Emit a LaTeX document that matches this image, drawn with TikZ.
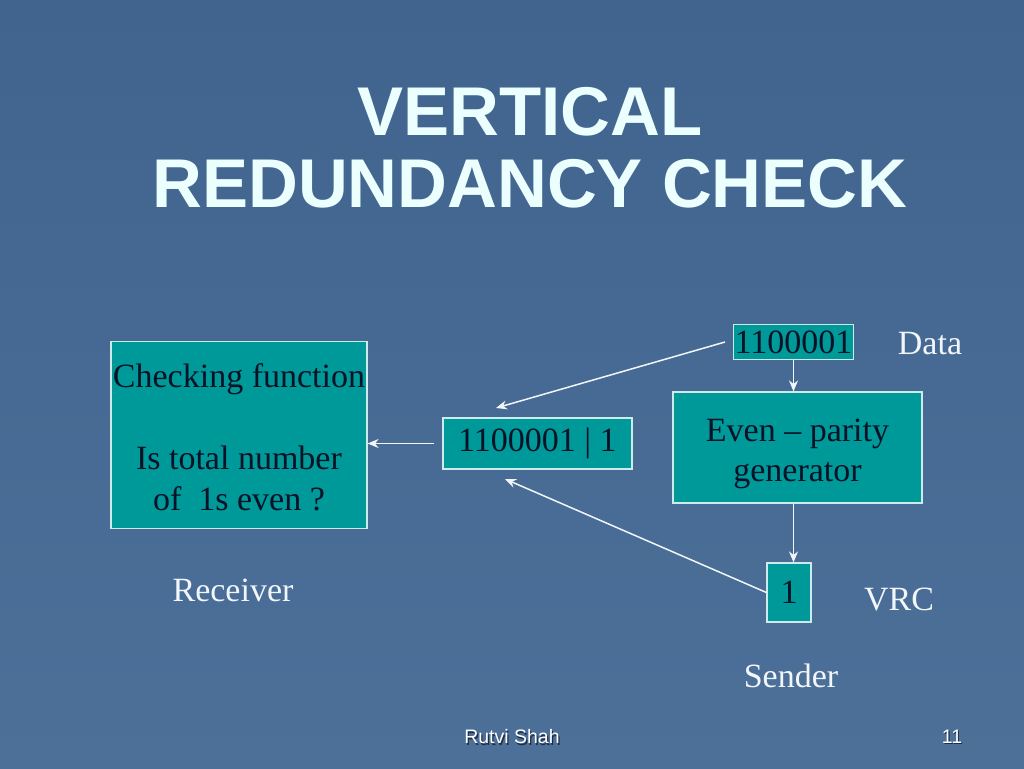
\documentclass[tikz,border=0pt]{standalone}
\usepackage{fontspec}
\setmainfont{Liberation Serif}
\newfontfamily\titlefont{Liberation Sans}
\usetikzlibrary{arrows.meta}
\definecolor{slidebg}{RGB}{76,112,152}
\definecolor{slidetop}{RGB}{64,100,142}
\definecolor{boxteal}{RGB}{0,153,153}
\definecolor{boxedge}{RGB}{205,235,235}
\definecolor{boxtext}{RGB}{8,18,38}
\definecolor{titletext}{RGB}{236,255,255}
\definecolor{labeltext}{RGB}{242,246,250}
\definecolor{shadowtext}{RGB}{30,45,70}
\begin{document}
\begin{tikzpicture}[x=1pt,y=-1pt,
		tealbox/.style={draw=boxedge, line width=1.2pt, fill=boxteal, text=boxtext, inner sep=0pt, align=center, font=\fontsize{34}{41}\selectfont},
		boxwords/.style={text=boxtext, inner sep=0pt, align=center, font=\fontsize{34}{40}\selectfont},
		plainlabel/.style={text=labeltext, inner sep=0pt, font=\fontsize{34}{41}\selectfont},
		titleline/.style={text=titletext, inner sep=0pt, font=\titlefont\bfseries\fontsize{69}{73}\selectfont},
		footer/.style={text=white, inner sep=0pt, font=\titlefont\fontsize{19.5}{22}\selectfont},
		link/.style={draw=labeltext, line width=1.5pt, -{Stealth[length=11pt,width=9pt]}}]
		\shade [top color=slidetop, bottom color=slidebg] (0,0) rectangle (1024,768);
		\useasboundingbox (0,0) rectangle (1024,768);
		% title
		\node [titleline] (title1) at (530,111.5) {VERTICAL};
		\node [titleline] (title2) at (530,184) {REDUNDANCY CHECK};
		% boxes
		\node [tealbox, minimum width=256pt, minimum height=187pt] (check) at (239,435) {};
		\node [boxwords, font=\fontsize{34}{41}\selectfont] (checktext) at ([yshift=-2pt]check.center) {Checking function\\[41pt]Is total number\\of\ \ 1s even ?};
		\node [tealbox, minimum width=189pt, minimum height=51pt] (pair) at (537.5,443.5) {1100001 | 1};
		\node [tealbox, minimum width=120pt, minimum height=35pt] (data) at (793.5,342) {1100001};
		\node [tealbox, minimum width=249pt, minimum height=111pt] (gen) at (797.5,447.5) {};
		\node [boxwords] (gentext) at ([yshift=-6pt]gen.center) {Even -- parity\\generator};
		\node [tealbox, minimum width=44pt, minimum height=59pt] (one) at (789,592.5) {1};
		% labels
		\node [plainlabel] (datalabel) at (930,344) {Data};
		\node [plainlabel] (receiver) at (233,590) {Receiver};
		\node [plainlabel] (vrc) at (899,599) {VRC};
		\node [plainlabel] (sender) at (791,676) {Sender};
		% arrows
		\coordinate (datatail) at (725,342);
		\coordinate (datatip) at (496,408);
		\coordinate (onetip) at (505,479);
		\draw [link] (datatail) -- (datatip);
		\draw [link] (one.west) -- (onetip);
		\draw [link, shorten <=8pt] (pair.west) -- (pair.west -| check.east);
		\draw [link] (data.south) -- (data.south |- gen.north);
		\draw [link] (data.south |- gen.south) -- (data.south |- one.north);
		% footer
		\node [footer, text=shadowtext] (authorshadow) at ([xshift=1.2pt,yshift=-1.2pt]512,737) {Rutvi Shah};
		\node [footer] (author) at (512,737) {Rutvi Shah};
		\node [footer, text=shadowtext] (pageshadow) at ([xshift=1.2pt,yshift=-1.2pt]952,737) {11};
		\node [footer] (page) at (952,737) {11};
	\end{tikzpicture}
\end{document}
